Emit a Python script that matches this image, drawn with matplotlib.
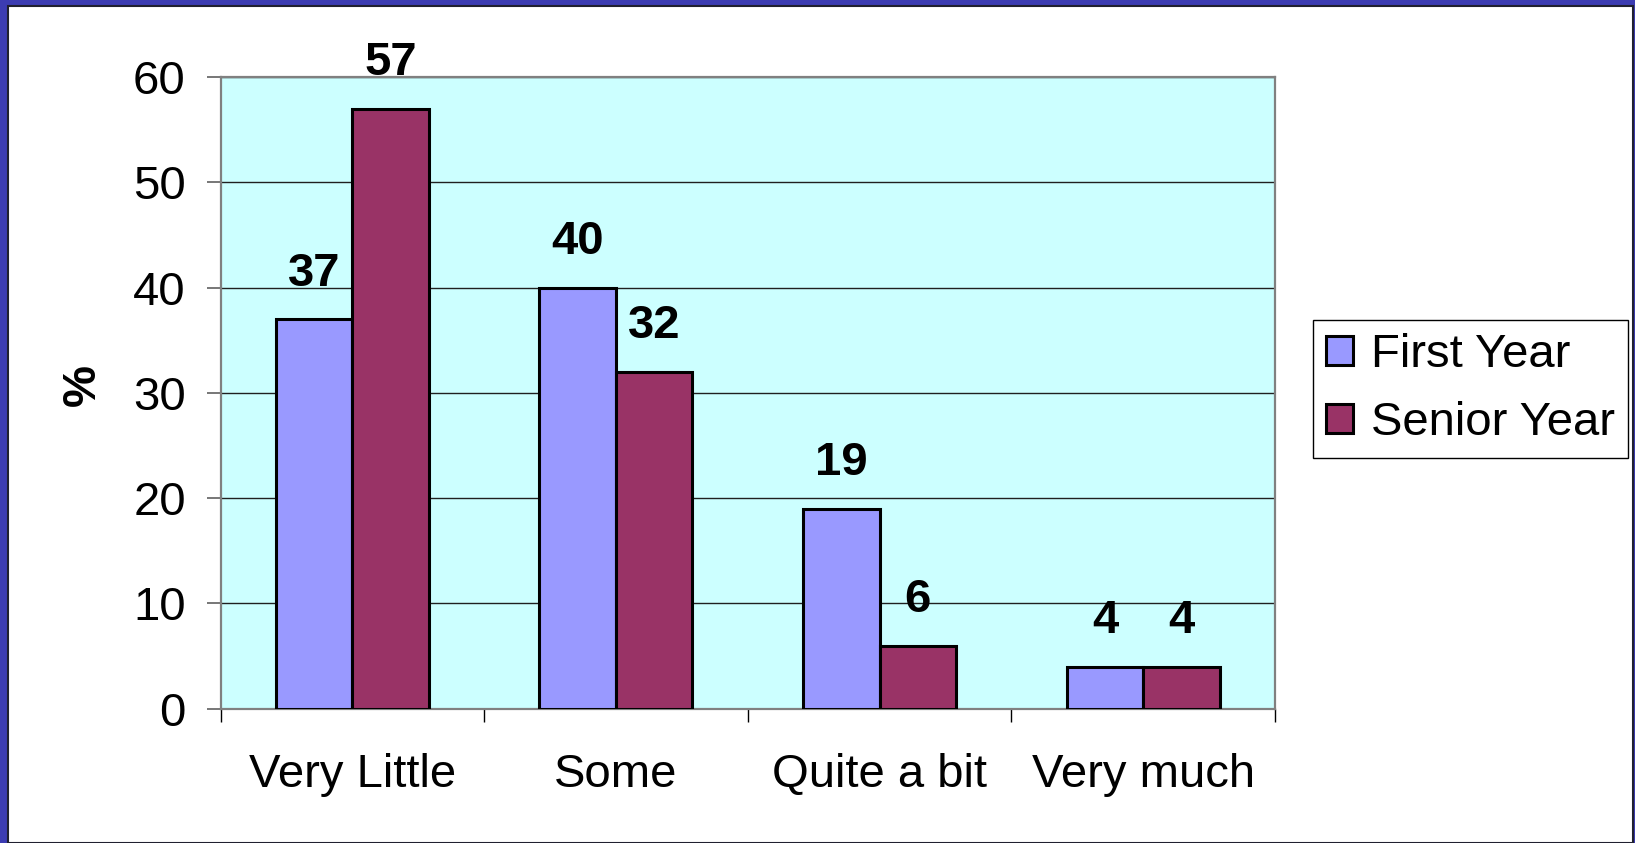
import matplotlib
matplotlib.use("Agg")
import matplotlib.pyplot as plt
from matplotlib.patches import Rectangle
import numpy as np

plt.rcParams['font.family'] = ['Liberation Sans', 'DejaVu Sans']

categories = ["Very Little", "Some", "Quite a bit", "Very much"]
first_year = [37, 40, 19, 4]
senior_year = [57, 32, 6, 4]
series_names = ["First Year", "Senior Year"]
y_ticks = [0, 10, 20, 30, 40, 50, 60]

FS = 34

W, H = 1635, 843
fig = plt.figure(figsize=(W / 100, H / 100), dpi=100)
fig.patch.set_facecolor('#3c3cb2')

# white slide panel
panel = Rectangle((8 / W, 0), (W - 10) / W, (H - 6) / H, transform=fig.transFigure,
                  facecolor='white', edgecolor='#202030', linewidth=1.5, zorder=-10)
fig.patches.append(panel)

ax = fig.add_axes([220.5 / W, 134.3 / H, (1275 - 220.5) / W, (708.7 - 77) / H])
ax.set_zorder(1)
ax.set_facecolor('#CCFFFF')

x = np.arange(len(categories))
bw = 0.29
b1 = ax.bar(x - bw / 2, first_year, bw, color='#9999FF', edgecolor='black', linewidth=2.2,
            label=series_names[0], zorder=3)
b2 = ax.bar(x + bw / 2, senior_year, bw, color='#993366', edgecolor='black', linewidth=2.2,
            label=series_names[1], zorder=3)

for bars, vals in ((b1, first_year), (b2, senior_year)):
    for r, v in zip(bars, vals):
        ax.annotate(str(v), (r.get_x() + r.get_width() / 2, v), xytext=(0, 24),
                    textcoords='offset points', ha='center', va='baseline',
                    fontsize=FS, fontweight='bold', color='black', zorder=4)

ax.set_xlim(-0.5, len(categories) - 0.5)
ax.set_ylim(0, 60)
ax.set_yticks(y_ticks)
ax.set_yticklabels([str(t) for t in y_ticks])
ax.yaxis.grid(True, color='#202020', linewidth=1.0, zorder=1)
ax.set_axisbelow(True)

ax.set_xticks(x)
ax.set_xticklabels(categories)
ax.set_xticks(np.arange(-0.5, len(categories), 1.0), minor=True)
ax.tick_params(axis='x', which='major', length=0, pad=32, labelsize=FS)
ax.tick_params(axis='x', which='minor', length=9.5, width=1.0, color='black', direction='out')
ax.tick_params(axis='y', which='major', length=10, width=1.2, color='#606060', pad=15,
               labelsize=FS)

for s in ax.spines.values():
    s.set_color('#808080')
    s.set_linewidth(1.6)

fig.text(83 / W, 1 - 385 / H, '%', rotation=90, fontsize=FS, fontweight='bold',
         ha='center', va='center')

leg = ax.legend(loc='upper left', bbox_to_anchor=(1313 / W, 1 - 320 / H),
                bbox_transform=fig.transFigure, borderaxespad=0, fontsize=FS,
                frameon=True, fancybox=False, edgecolor='black', framealpha=1,
                handlelength=0.56, handleheight=0.56, handletextpad=0.38,
                labelspacing=0.5, borderpad=0.28)
leg.get_frame().set_linewidth(1.0)

fig.savefig('out.png', dpi=100, facecolor=fig.get_facecolor())
